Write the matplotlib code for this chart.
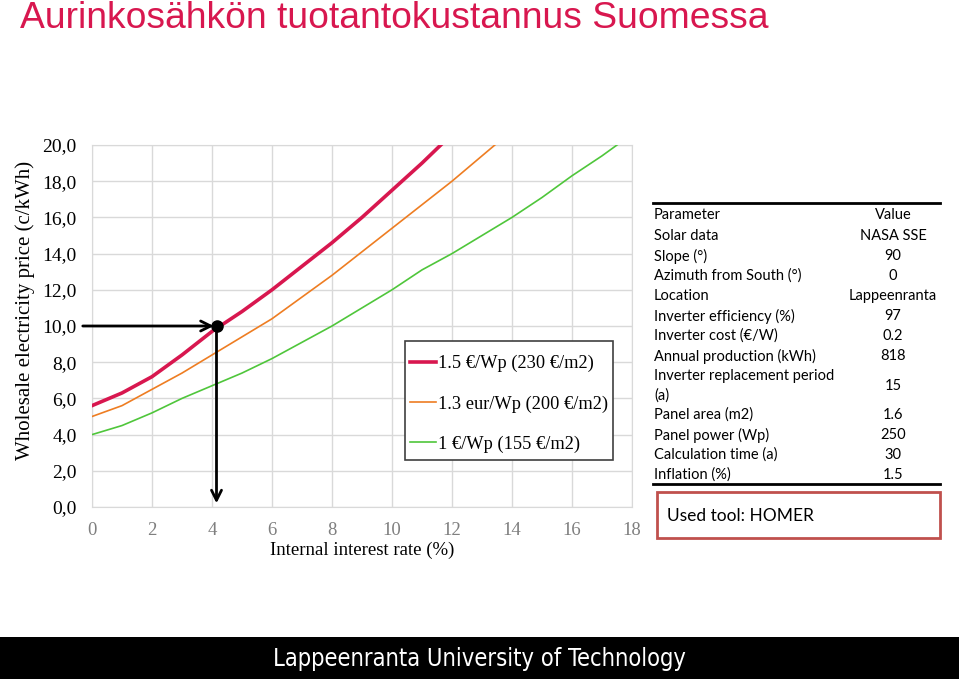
import matplotlib

matplotlib.use("Agg")
import matplotlib.pyplot as plt  # noqa: E402
from matplotlib.lines import Line2D  # noqa: E402
from matplotlib.patches import Rectangle  # noqa: E402

W, H = 959, 679

title = "Aurinkosähkön tuotantokustannus Suomessa"
series_labels = ["1.5 €/Wp (230 €/m2)", "1.3 eur/Wp (200 €/m2)", "1 €/Wp (155 €/m2)"]
series_colors = ["#d8174f", "#ee7d22", "#4fc63b"]
series_widths = [2.6, 1.2, 1.2]

rate = [0, 1, 2, 3, 4, 5, 6, 7, 8, 9, 10, 11, 12, 13, 14, 15, 16, 17, 18]
price_15 = [5.6, 6.3, 7.2, 8.4, 9.7, 10.8, 12.0, 13.3, 14.6, 16.0, 17.5, 19.0, 20.6]
price_13 = [5.0, 5.6, 6.5, 7.4, 8.4, 9.4, 10.4, 11.6, 12.8, 14.1, 15.4, 16.7, 18.0,
            19.4, 20.8]
price_10 = [4.0, 4.5, 5.2, 6.0, 6.7, 7.4, 8.2, 9.1, 10.0, 11.0, 12.0, 13.1, 14.0,
            15.0, 16.0, 17.1, 18.3, 19.4, 20.6]

marker_rate = 4.15
marker_price = 10.0

params = ["Solar data", "Slope (°)", "Azimuth from South (°)", "Location",
          "Inverter efficiency (%)", "Inverter cost (€/W)", "Annual production (kWh)",
          "Inverter replacement period\n(a)", "Panel area (m2)", "Panel power (Wp)",
          "Calculation time (a)", "Inflation (%)"]
values = ["NASA SSE", "90", "0", "Lappeenranta", "97", "0.2", "818", "15", "1.6",
          "250", "30", "1.5"]


def fx(px):
    return px / W


def fy(py):
    return 1 - py / H


fig = plt.figure(figsize=(W / 100, H / 100), dpi=100)
fig.patch.set_facecolor("white")

fig.text(fx(20), fy(19), title, fontsize=26.8, color="#d8174f",
         family="Liberation Sans", va="center", ha="left")

ax = fig.add_axes([fx(92), fy(507), fx(632) - fx(92), fy(145) - fy(507)])
serif = "Liberation Serif"
for y, c, lw, lab in zip([price_15, price_13, price_10], series_colors,
                         series_widths, series_labels):
    ax.plot(rate[:len(y)], y, color=c, lw=lw, label=lab, zorder=3)

ax.set_xlim(0, 18)
ax.set_ylim(0, 20)
ax.set_xticks(range(0, 19, 2))
ax.set_yticks(range(0, 21, 2))
ax.set_yticklabels([f"{v},0" for v in range(0, 21, 2)], family=serif, fontsize=14)
ax.set_xticklabels([str(v) for v in range(0, 19, 2)], family=serif, fontsize=13.5,
                   color="#7f7f7f")
ax.tick_params(length=0)
ax.tick_params(axis="x", pad=11)
ax.tick_params(axis="y", pad=11)
ax.grid(color="#d9d9d9", lw=1)
for s in ax.spines.values():
    s.set_color("#d9d9d9")
ax.set_xlabel("Internal interest rate (%)", family=serif, fontsize=13.5, labelpad=2)
ax.set_ylabel("Wholesale electricity price (c/kWh)", family=serif, fontsize=15)
ax.yaxis.set_label_coords(-0.106, 0.544)

# guide arrows from the 10 c/kWh level down to the interest rate
ax.annotate("", xy=(marker_rate, marker_price), xytext=(-0.4, marker_price),
            arrowprops=dict(arrowstyle="->", lw=2, color="black",
                            mutation_scale=18), annotation_clip=False, zorder=5)
ax.annotate("", xy=(marker_rate, 0.05), xytext=(marker_rate, marker_price),
            arrowprops=dict(arrowstyle="->", lw=2, color="black",
                            mutation_scale=18), annotation_clip=False, zorder=5)
ax.plot([marker_rate], [marker_price], "o", color="black", ms=8, zorder=6,
        clip_on=False)

# legend: frame drawn separately to get the tight side padding
ax.add_patch(Rectangle((0.5796, 0.1298), 0.3852, 0.3287, transform=ax.transAxes,
                       facecolor="white", edgecolor="#404040", lw=1.2, zorder=7))
handles = [Line2D([], [], color=c, lw=lw) for c, lw in zip(series_colors, series_widths)]
leg = ax.legend(handles, series_labels, loc="upper left",
                bbox_to_anchor=(0.589, 0.42), prop={"family": serif, "size": 13.2},
                frameon=False, handlelength=1.4, handletextpad=0.15,
                labelspacing=1.25, borderpad=0, borderaxespad=0)
leg.set_zorder(8)

# parameter table
tfont = "Lato"
fig.add_artist(Line2D([fx(653), fx(940)], [fy(203), fy(203)], color="black", lw=2))
fig.text(fx(654), fy(215), "Parameter", fontsize=10.5, family=tfont, va="center")
fig.text(fx(893), fy(215), "Value", fontsize=10.5, family=tfont, va="center",
         ha="center")
row_y = [236, 256, 276, 296, 316, 336, 356, 386, 415, 435, 455, 475]
for py, p, v in zip(row_y, params, values):
    fig.text(fx(654), fy(py), p, fontsize=10.5, family=tfont, va="center",
             linespacing=1.5)
    fig.text(fx(893), fy(py), v, fontsize=10.5, family=tfont, va="center",
             ha="center")
fig.add_artist(Line2D([fx(653), fx(940)], [fy(484), fy(484)], color="black", lw=2))

fig.add_artist(Rectangle((fx(657), fy(538)), fx(940) - fx(657), fy(492) - fy(538),
                         transform=fig.transFigure, facecolor="white",
                         edgecolor="#c0504d", lw=2))
fig.text(fx(667), fy(516), "Used tool: HOMER", fontsize=12.5, family=tfont,
         va="center")

# footer band
fig.add_artist(Rectangle((0, 0), 1, fy(637), transform=fig.transFigure,
                         facecolor="black", edgecolor="none"))
fig.text(0.5, fy(659), "Lappeenranta University of Technology", color="white",
         fontsize=17, family="DejaVu Sans", fontstretch="condensed",
         ha="center", va="center")

fig.savefig("out.png", dpi=100)
